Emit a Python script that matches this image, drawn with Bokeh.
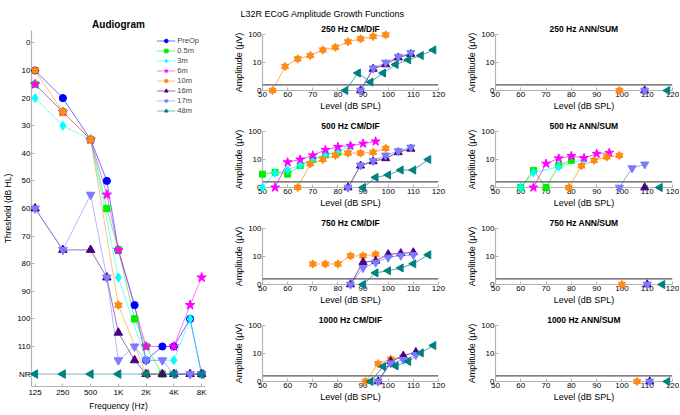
import numpy as np
from bokeh.plotting import figure
from bokeh.models import Range1d, FixedTicker, Legend, LegendItem, Span, Title
from bokeh.layouts import row, column
from bokeh.embed import file_html
from bokeh.resources import INLINE

FONT = "Liberation Sans"

# ---------------- data ----------------
SERIES = ["PreOp", "0.5m", "3m", "6m", "10m", "16m", "17m", "48m"]
COLORS = {"PreOp": "#0000ff", "0.5m": "#00ee00", "3m": "#00ffff", "6m": "#ff00ff",
          "10m": "#ff8a14", "16m": "#4b0082", "17m": "#7b7bff", "48m": "#008080"}

# Audiogram (dB HL); "NR" = no response
AUD_FREQS = [125, 250, 500, 750, 1000, 1500, 2000, 3000, 4000, 6000, 8000]
AUD_TICKS = [125, 250, 500, 1000, 2000, 4000, 8000]
AUD_TICK_LABELS = ["125", "250", "500", "1K", "2K", "4K", "8K"]
AUD_Y_TICKS = [0, 10, 20, 30, 40, 50, 60, 70, 80, 90, 100, 110]
NR_LEVEL = 120
aud_preop = [10, 20, 35, 50, 75, 95, 115, 110, 110, 100, "NR"]
aud_05m = [15, 25, 35, 60, 75, 100, 110, "NR", None, None, None]
aud_3m = [20, 30, 35, None, 85, None, 115, None, 115, 100, "NR"]
aud_6m = [15, 25, 35, 55, 75, None, 110, None, 110, 95, 85]
aud_10m = [10, 25, 35, None, 95, None, "NR", None, "NR", None, "NR"]
aud_16m = [60, 75, 75, 85, 105, 115, "NR", "NR", "NR", "NR", "NR"]
aud_17m = [60, 75, 55, 85, 115, 110, 115, 115, "NR", "NR", "NR"]
aud_48m = ["NR", "NR", "NR", None, "NR", None, "NR", None, "NR", None, "NR"]
AUDIOGRAM = {"PreOp": aud_preop, "0.5m": aud_05m, "3m": aud_3m, "6m": aud_6m,
             "10m": aud_10m, "16m": aud_16m, "17m": aud_17m, "48m": aud_48m}

# ECoG growth functions: level (dB SPL), amplitude (uV)
CM250 = {"10m": ([54, 59, 64, 69, 74, 79, 84, 89, 94, 99], [0, 7.2, 13.5, 17.8, 28, 35, 55, 70, 85, 97]),
         "16m": ([89, 94, 99, 104, 109], [0, 5.9, 8.5, 15, 20]),
         "17m": ([89, 94, 99, 104, 109], [0, 6.2, 10, 16, 22]),
         "48m": ([83, 88, 93, 98, 103, 108, 113, 118], [0, 4.2, 2.0, 4.2, 8.5, 12.4, 17.8, 28])}
CM500 = {"0.5m": ([50, 55, 60, 65, 70, 75, 80], [3.0, 3.5, 3.0, 6, 10, 15, 18]),
         "3m": ([50, 55, 60, 65, 70, 75, 80, 85], [0, 3.3, 4.2, 6.5, 10, 15, 19, 30]),
         "6m": ([55, 60, 65, 70, 75, 80, 85, 90, 95], [0, 8, 10, 14, 22, 28, 31, 37, 44]),
         "10m": ([64, 69, 74, 79, 84, 89, 94, 99], [0, 7, 10, 14, 17, 17, 18, 25]),
         "16m": ([84, 89, 94, 99, 104, 109], [0, 6, 8.5, 11, 18, 24]),
         "17m": ([84, 89, 94, 99, 104, 109], [0, 6.2, 9, 14, 20, 27]),
         "48m": ([90, 95, 100, 105, 110, 116], [0, 2.3, 2.8, 4.2, 4.2, 10])}
CM750 = {"10m": ([70, 75, 80, 85, 90, 95], [5.4, 5.4, 5.4, 10.5, 10.5, 12]),
         "16m": ([85, 90, 95, 100, 105, 110], [0, 6.3, 7, 12, 13, 14]),
         "17m": ([85, 90, 95, 100, 105, 110], [0, 3.9, 6.1, 9.2, 10.8, 11.4]),
         "48m": ([90, 95, 100, 105, 110, 116], [0, 2.6, 3.1, 3.9, 5.5, 11.5])}
CM1000 = {"10m": ([91, 96, 101, 106], [0, 4.3, 6.3, 7.4]),
          "16m": ([96, 101, 106, 111], [0, 5.2, 8.3, 11.2]),
          "17m": ([96, 101, 106, 111], [0, 4.5, 6, 8.9]),
          "48m": ([93, 98, 103, 108, 113, 118], [0, 3.4, 3.6, 5.2, 10.5, 19.3])}
ANN250 = {"10m": ([99], [0]), "16m": ([109], [0]), "17m": ([109], [0]), "48m": ([118], [0])}
ANN500 = {"0.5m": ([60, 65, 70, 75, 80], [0, 4.1, 0, 6.2, 9.3]),
          "3m": ([60, 65, 75, 85], [0, 3.4, 5.5, 10]),
          "6m": ([65, 70, 75, 80, 85, 90, 95], [0, 7.1, 11, 13.3, 11.3, 16, 17.4]),
          "10m": ([79, 84, 89, 94, 99], [0, 5.9, 9.3, 12.3, 14]),
          "16m": ([109], [0]),
          "17m": ([99, 104, 109], [0, 4.9, 6.7]),
          "48m": ([115], [0])}
ANN750 = {"10m": ([100], [0]), "16m": ([110], [0]), "17m": ([110], [0]), "48m": ([116], [0])}
ANN1000 = {"10m": ([106], [0]), "16m": ([111], [0]), "17m": ([111], [0]), "48m": ([118], [0])}

NOISE_FLOOR_UV = 1.6
AMP_TICKS_UV = [1, 10, 100]
AMP_TICK_LABELS = ["0", "10", "100"]
LEVEL_TICKS = [50, 60, 70, 80, 90, 100, 110, 120]

PANELS = [("250 Hz CM/DIF", CM250), ("250 Hz ANN/SUM", ANN250),
          ("500 Hz CM/DIF", CM500), ("500 Hz ANN/SUM", ANN500),
          ("750 Hz CM/DIF", CM750), ("750 Hz ANN/SUM", ANN750),
          ("1000 Hz CM/DIF", CM1000), ("1000 Hz ANN/SUM", ANN1000)]
SUPTITLE = "L32R ECoG Amplitude Growth Functions"


# ---------------- helpers ----------------
def draw_markers(p, x, y, name, k):
    c = COLORS[name]
    kw = dict(fill_color=c, line_color=c, level="overlay")
    rs = []
    if name == "PreOp":
        rs.append(p.scatter(x, y, marker="circle", size=8 * k, **kw))
    elif name == "0.5m":
        rs.append(p.scatter(x, y, marker="square", size=7 * k, **kw))
    elif name == "3m":
        rs.append(p.scatter(x, y, marker="diamond", size=10 * k, **kw))
    elif name == "6m":
        rs.append(p.scatter(x, y, marker="star", size=11 * k, **kw))
    elif name == "10m":
        rs.append(p.scatter(x, y, marker="triangle", size=8.5 * k, **kw))
        rs.append(p.scatter(x, y, marker="inverted_triangle", size=8.5 * k, **kw))
    elif name == "16m":
        rs.append(p.scatter(x, y, marker="triangle", size=9.5 * k, **kw))
    elif name == "17m":
        rs.append(p.scatter(x, y, marker="inverted_triangle", size=9.5 * k, **kw))
    elif name == "48m":
        rs.append(p.scatter(x, y, marker="triangle", angle=np.pi / 2, size=9.5 * k, **kw))
    return rs


def style_axes(p, tick_size, label_size):
    for ax in (p.xaxis[0], p.yaxis[0]):
        ax.axis_line_color = "#b4b4b4"
        ax.axis_line_width = 1.2
        ax.major_tick_line_color = "#b4b4b4"
        ax.major_tick_in = 3
        ax.major_tick_out = 0
        ax.minor_tick_line_color = None
        ax.major_label_text_font = FONT
        ax.major_label_text_font_size = tick_size
        ax.major_label_text_color = "#000000"
        ax.axis_label_text_font = FONT
        ax.axis_label_text_font_size = label_size
        ax.axis_label_text_font_style = "normal"
        ax.axis_label_text_color = "#000000"
        ax.major_label_standoff = 1
        ax.axis_label_standoff = 1
    p.xgrid.visible = False
    p.ygrid.visible = False
    p.outline_line_color = None
    p.background_fill_color = "white"
    p.border_fill_color = "white"


def style_title(t, size, bold=True, standoff=2, align="center"):
    t.align = align
    t.text_font = FONT
    t.text_font_size = size
    t.text_font_style = "bold" if bold else "normal"
    t.text_color = "#000000"
    t.standoff = standoff


# ---------------- audiogram ----------------
aud = figure(width=224, height=414, x_axis_type="log",
             x_range=Range1d(125 / 2 ** 0.13, 8000 * 2 ** 0.14),
             y_range=Range1d(124.5, -4.5),
             output_backend="svg", toolbar_location=None,
             min_border_left=30, min_border_right=19, min_border_top=30, min_border_bottom=28,
             title="Audiogram", x_axis_label="Frequency (Hz)", y_axis_label="Threshold (dB HL)")
style_axes(aud, "8px", "8.5px")
style_title(aud.title, "10px", standoff=2)
aud.xaxis.ticker = FixedTicker(ticks=AUD_TICKS)
aud.xaxis.major_label_overrides = {t: l for t, l in zip(AUD_TICKS, AUD_TICK_LABELS)}
aud.yaxis.ticker = FixedTicker(ticks=AUD_Y_TICKS + [NR_LEVEL])
aud.yaxis.major_label_overrides = {NR_LEVEL: "NR"}

items = []
for name in SERIES:
    vals = AUDIOGRAM[name]
    xs = [f for f, v in zip(AUD_FREQS, vals) if v is not None]
    ys = [NR_LEVEL if v == "NR" else v for v in vals if v is not None]
    lr = aud.line(xs, ys, line_color=COLORS[name], line_width=1, line_alpha=0.55)
    mrs = draw_markers(aud, xs, ys, name, 0.9)
    items.append(LegendItem(label=name, renderers=[lr] + mrs))

leg = Legend(items=items, location="top_right", margin=6, padding=0, spacing=1,
             glyph_width=19, glyph_height=9, label_height=9, label_standoff=2,
             label_text_font=FONT, label_text_font_size="7.5px",
             border_line_alpha=0, background_fill_alpha=0)
aud.add_layout(leg)

# ---------------- ECoG panels ----------------
COL_WIDTH = [233, 222]
COL_RIGHT = [19, 7]
ROW_TOP = [34, 14, 14, 14]
ROW_BOTTOM = [27, 27, 27, 33]
FRAME_H = 56

figs = []
for i, (ptitle, panel) in enumerate(PANELS):
    r, col = divmod(i, 2)
    height = ROW_TOP[r] + FRAME_H + ROW_BOTTOM[r]
    p = figure(width=COL_WIDTH[col], height=height,
               x_range=Range1d(50, 120), y_range=Range1d(0, 2),
               output_backend="svg", toolbar_location=None,
               min_border_left=38, min_border_right=COL_RIGHT[col],
               min_border_top=ROW_TOP[r], min_border_bottom=ROW_BOTTOM[r],
               x_axis_label="Level (dB SPL)", y_axis_label="Amplitude (\u03bcV)")
    style_axes(p, "8px", "9px")
    p.xaxis.ticker = FixedTicker(ticks=LEVEL_TICKS)
    ypos = [float(np.log10(v)) for v in AMP_TICKS_UV]
    p.yaxis.ticker = FixedTicker(ticks=ypos)
    p.yaxis.major_label_overrides = {yp: l for yp, l in zip(ypos, AMP_TICK_LABELS)}
    if i == 0:
        p.title.text = SUPTITLE
        style_title(p.title, "9px", bold=False, standoff=3, align="left")
        p.title.offset = -22
        t2 = Title(text=ptitle)
        style_title(t2, "8.5px", standoff=2)
        p.add_layout(t2, "above")
    else:
        p.title.text = ptitle
        style_title(p.title, "8.5px", standoff=2)
    p.add_layout(Span(location=float(np.log10(NOISE_FLOOR_UV)), dimension="width",
                      line_color="#555555", line_width=1.2))
    for name in SERIES:
        if name not in panel:
            continue
        lv, amp = panel[name]
        y = np.log10(np.maximum(np.array(amp, dtype=float), 1.0))
        p.line(lv, y, line_color=COLORS[name], line_width=1, line_alpha=0.7)
        draw_markers(p, lv, y, name, 0.85)
    figs.append(p)

col1 = column(*figs[0::2], spacing=0)
col2 = column(*figs[1::2], spacing=0)
layout = row(aud, col1, col2, spacing=0)

open("out.html", "w").write(file_html(layout, INLINE))
